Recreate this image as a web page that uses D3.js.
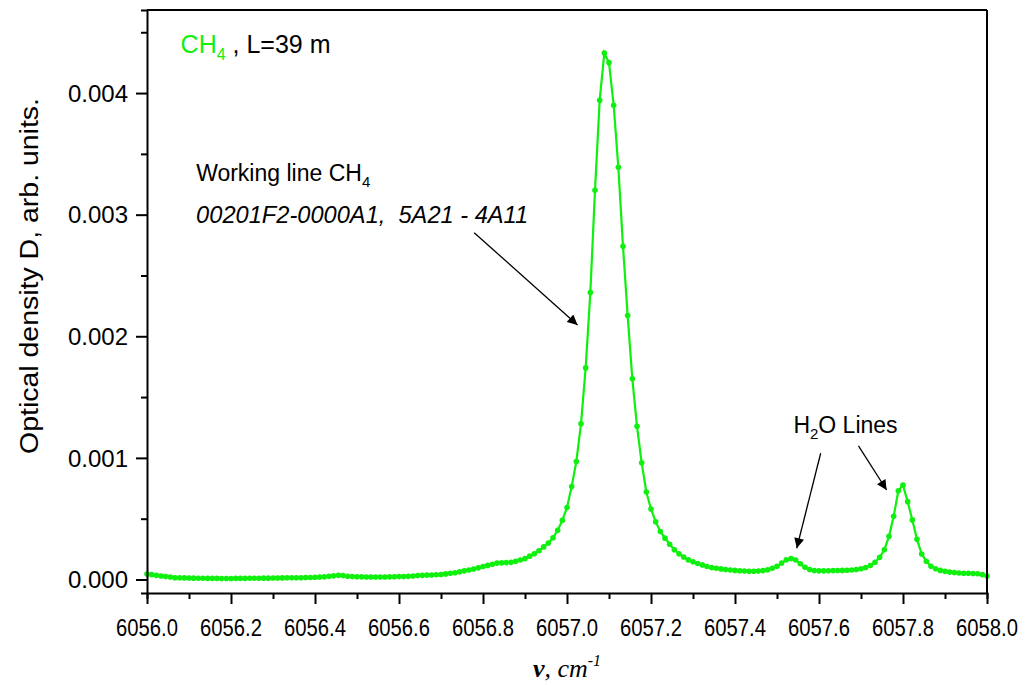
<!DOCTYPE html>
<html>
<head>
<meta charset="utf-8">
<script src="https://cdn.jsdelivr.net/npm/d3@7/dist/d3.min.js"></script>
<style>
  body { margin: 0; background: #fff; }
  text { font-family: "Liberation Sans", Arial, sans-serif; }
</style>
</head>
<body>
<div id="chart"></div>
<script>
// --- data (optical density, units of 1e-3), spectrometer grid from 6056.0 cm-1 ---
const nuStart = 6056.0, nuStep = 2 / 180;
const density = [
  0.045, 0.040, 0.034, 0.029, 0.024, 0.020, 0.015, 0.014, 0.013, 0.012,
  0.011, 0.010, 0.010, 0.009, 0.009, 0.009, 0.008, 0.008, 0.008, 0.009,
  0.009, 0.009, 0.010, 0.010, 0.010, 0.011, 0.011, 0.012, 0.012, 0.013,
  0.014, 0.014, 0.015, 0.015, 0.016, 0.017, 0.019, 0.020, 0.022, 0.026,
  0.030, 0.034, 0.032, 0.027, 0.024, 0.023, 0.022, 0.021, 0.020, 0.020,
  0.021, 0.021, 0.022, 0.023, 0.024, 0.024, 0.026, 0.029, 0.032, 0.034,
  0.036, 0.037, 0.039, 0.041, 0.046, 0.051, 0.056, 0.063, 0.071, 0.078,
  0.086, 0.096, 0.107, 0.116, 0.126, 0.135, 0.137, 0.139, 0.141, 0.150,
  0.160, 0.172, 0.192, 0.212, 0.236, 0.268, 0.300, 0.342, 0.405, 0.486,
  0.592, 0.764, 0.970, 1.280, 1.740, 2.360, 3.200, 3.940, 4.330, 4.250,
  3.900, 3.390, 2.740, 2.170, 1.650, 1.260, 0.960, 0.720, 0.580, 0.475,
  0.395, 0.340, 0.290, 0.245, 0.212, 0.185, 0.161, 0.145, 0.131, 0.120,
  0.107, 0.098, 0.092, 0.087, 0.082, 0.078, 0.075, 0.072, 0.070, 0.068,
  0.068, 0.069, 0.073, 0.080, 0.092, 0.108, 0.135, 0.162, 0.172, 0.160,
  0.130, 0.100, 0.082, 0.074, 0.071, 0.071, 0.072, 0.073, 0.074, 0.075,
  0.076, 0.078, 0.082, 0.088, 0.098, 0.115, 0.142, 0.182, 0.245, 0.355,
  0.520, 0.730, 0.776, 0.640, 0.490, 0.330, 0.210, 0.150, 0.108, 0.088,
  0.075, 0.067, 0.061, 0.057, 0.054, 0.052, 0.051, 0.049, 0.047, 0.040,
  0.028
];
const xTicks = [6056.0, 6056.2, 6056.4, 6056.6, 6056.8, 6057.0, 6057.2, 6057.4, 6057.6, 6057.8, 6058.0];
const yTicks = [0.000, 0.001, 0.002, 0.003, 0.004];

// annotation arrows: [from nu, from D(1e-3), to nu, to D(1e-3)]
const arrows = [
  [6056.779, 2.852, 6057.025, 2.093],
  [6057.604, 1.038, 6057.547, 0.257],
  [6057.694, 1.098, 6057.761, 0.736]
];

// --- sizing ---
const W = 1027, H = 685;
const margin = { top: 10, right: 40, bottom: 92, left: 147 },
      width  = W - margin.left - margin.right,
      height = H - margin.top - margin.bottom;

const svg = d3.select("#chart").append("svg")
  .attr("width", W).attr("height", H);

const g = svg.append("g")
  .attr("transform", `translate(${margin.left},${margin.top})`);

const x = d3.scaleLinear().domain([6056.0, 6058.0]).range([0, width]);
const y = d3.scaleLinear().domain([-0.111e-3, 4.683e-3]).range([height, 0]);

const points = density.map((d, i) => ({ nu: nuStart + i * nuStep, D: d * 1e-3 }));

// arrow head
svg.append("defs").append("marker")
  .attr("id", "head")
  .attr("viewBox", "0 0 10 10")
  .attr("refX", 10).attr("refY", 5)
  .attr("markerWidth", 14).attr("markerHeight", 10)
  .attr("markerUnits", "userSpaceOnUse")
  .attr("orient", "auto")
  .append("path").attr("d", "M0,0 L10,5 L0,10 Z").attr("fill", "#000");

// --- data line + markers ---
const green = "#0ff00f";
const line = d3.line().x(d => x(d.nu)).y(d => y(d.D));
g.append("path")
  .datum(points)
  .attr("fill", "none")
  .attr("stroke", green)
  .attr("stroke-width", 2.2)
  .attr("d", line);

g.selectAll(".pt").data(points).enter().append("circle")
  .attr("class", "pt")
  .attr("cx", d => x(d.nu)).attr("cy", d => y(d.D))
  .attr("r", 2.8).attr("fill", green);

// --- axes ---
const xAxis = g.append("g")
  .attr("transform", `translate(0,${height})`)
  .call(d3.axisBottom(x).tickValues(d3.range(0, 21).map(i => 6056 + i * 0.1)).tickSize(6).tickFormat(""));
xAxis.selectAll(".tick line")
  .attr("y2", (d, i) => i % 2 === 0 ? 11 : 6)
  .attr("stroke-width", 2);
xAxis.select(".domain").attr("stroke-width", 2);

g.append("g").selectAll("text").data(xTicks).enter().append("text")
  .attr("x", d => x(d))
  .attr("y", height + 43)
  .attr("text-anchor", "middle")
  .attr("textLength", 62)
  .attr("lengthAdjust", "spacingAndGlyphs")
  .style("font-size", "23px")
  .text(d => d.toFixed(1));

const yAxis = g.append("g")
  .call(d3.axisLeft(y).tickValues(d3.range(0, 10).map(i => i * 0.0005)).tickSize(6).tickFormat(""));
yAxis.selectAll(".tick line")
  .attr("x2", (d, i) => i % 2 === 0 ? -11 : -6)
  .attr("stroke-width", 2);
yAxis.select(".domain").attr("stroke-width", 2);

g.append("g").selectAll("text").data(yTicks).enter().append("text")
  .attr("x", -19)
  .attr("y", d => y(d))
  .attr("dy", "0.36em")
  .attr("text-anchor", "end")
  .style("font-size", "24px")
  .text(d => d.toFixed(3));

// frame top / right
g.append("line").attr("x1", 0).attr("x2", width).attr("y1", 0).attr("y2", 0)
  .attr("stroke", "#000").attr("stroke-width", 2);
g.append("line").attr("x1", width).attr("x2", width).attr("y1", 0).attr("y2", height)
  .attr("stroke", "#000").attr("stroke-width", 2);

// --- axis titles ---
g.append("text")
  .attr("transform", `translate(${38 - margin.left},${276 - margin.top}) rotate(-90)`)
  .attr("text-anchor", "middle")
  .attr("textLength", 356)
  .attr("lengthAdjust", "spacingAndGlyphs")
  .style("font-size", "26px")
  .text("Optical density D, arb. units.");

const xt = g.append("text")
  .attr("x", width / 2)
  .attr("y", height + 84)
  .attr("text-anchor", "middle")
  .style("font-family", "'Liberation Serif', 'Times New Roman', serif")
  .style("font-style", "italic")
  .style("font-size", "26px");
xt.append("tspan").style("font-weight", "bold").text("ν");
xt.append("tspan").text(", cm");
xt.append("tspan").attr("dy", -11).style("font-size", "16px").text("-1");

// --- annotations ---
const t1 = g.append("text")
  .attr("x", x(6056.080)).attr("y", y(4.332e-3))
  .style("font-size", "25px");
t1.append("tspan").attr("fill", green).text("CH");
t1.append("tspan").attr("fill", green).attr("dy", 7).style("font-size", "16px").text("4");
t1.append("tspan").attr("dy", -7).text(" , L=39 m");

const t2 = g.append("text")
  .attr("x", x(6056.117)).attr("y", y(3.280e-3))
  .style("font-size", "23px");
t2.append("tspan").text("Working line CH");
t2.append("tspan").attr("dy", 6).style("font-size", "15px").text("4");

g.append("text")
  .attr("x", x(6056.117)).attr("y", y(2.929e-3))
  .attr("textLength", 332)
  .attr("lengthAdjust", "spacingAndGlyphs")
  .style("font-size", "23px")
  .style("font-style", "italic")
  .style("white-space", "pre")
  .text("00201F2-0000A1,  5A21 - 4A11");

const t3 = g.append("text")
  .attr("x", x(6057.539)).attr("y", y(1.202e-3))
  .style("font-size", "23px");
t3.append("tspan").text("H");
t3.append("tspan").attr("dy", 6).style("font-size", "15px").text("2");
t3.append("tspan").attr("dy", -6).text("O Lines");

g.selectAll(".arrow").data(arrows).enter().append("line")
  .attr("class", "arrow")
  .attr("x1", d => x(d[0])).attr("y1", d => y(d[1] * 1e-3))
  .attr("x2", d => x(d[2])).attr("y2", d => y(d[3] * 1e-3))
  .attr("stroke", "#000").attr("stroke-width", 1.3)
  .attr("marker-end", "url(#head)");
</script>
</body>
</html>
